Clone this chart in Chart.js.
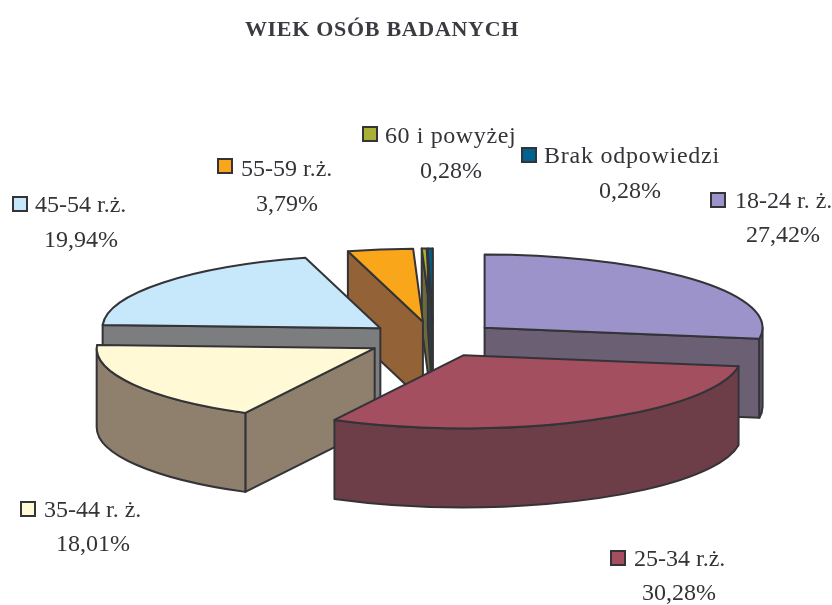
<!DOCTYPE html>
<html><head><meta charset="utf-8">
<style>html,body{margin:0;padding:0;background:#fff}#w{width:832px;height:605px}</style>
<script src="https://cdn.jsdelivr.net/npm/chart.js@4"></script>
</head><body><div id="w"><canvas id="c"></canvas></div>
<script>
const categories = ['18-24 r. ż.','25-34 r.ż.','35-44 r. ż.','45-54 r.ż.','55-59 r.ż.','60 i powyżej','Brak odpowiedzi'];
const values = [27.42,30.28,18.01,19.94,3.79,0.28,0.28];
const topColors = ['#9b93c9','#a34f60','#fff9d6','#c7e8fa','#f9a61a','#a8b035','#00628f'];
const sideColors = ['#6b5f74','#6e3e48','#8f7f6d','#7c7d7f','#936236','#6b6a3c','#2f3b45'];
const titleText = 'WIEK OSÓB BADANYCH';

const view = {k:0.263, depth:79, explode:67.6, centerX:433.3, centerY:339.3, stroke:'#333338', radius:278};
const paintOrder = [5,6,4,3,0,2,1];
// marker left/top, label start and baseline, percent centre and baseline, letter spacing
const labelBoxes = [
 {mx:711,my:193,tx:735,ty:208,px:783,py:242,ls:0},
 {mx:611,my:551,tx:634,ty:566,px:679,py:600,ls:0},
 {mx:21,my:502,tx:44,ty:517,px:93,py:551,ls:0},
 {mx:13,my:197,tx:35,ty:212,px:81,py:247,ls:0},
 {mx:218,my:159,tx:241,ty:176,px:287,py:211,ls:0},
 {mx:363,my:127,tx:385,ty:143,px:451,py:178,ls:0.6},
 {mx:522,my:148,tx:544,ty:163,px:630,py:198,ls:0.75}
];

const pie3d = {
 id:'pie3d',
 beforeDraw(chart){ chart.ctx.letterSpacing='0.7px'; },
 beforeDatasetDraw(chart,args){
  const ctx=chart.ctx, arcs=chart.getDatasetMeta(args.index).data, v=view;
  paintOrder.forEach(i=>{
   const arc=arcs[i], a0=arc.startAngle, a1=arc.endAngle, r=arc.outerRadius, mid=(a0+a1)/2;
   const X=v.centerX+Math.cos(mid)*v.explode, Y=v.centerY+Math.sin(mid)*v.explode*v.k, ry=r*v.k;
   ctx.save();
   ctx.lineJoin='round'; ctx.lineWidth=2; ctx.strokeStyle=v.stroke; ctx.fillStyle=sideColors[i];
   const face=a=>{
    const ex=X+r*Math.cos(a), ey=Y+ry*Math.sin(a);
    ctx.beginPath(); ctx.moveTo(X,Y); ctx.lineTo(ex,ey); ctx.lineTo(ex,ey+v.depth); ctx.lineTo(X,Y+v.depth); ctx.closePath();
    ctx.fill(); ctx.stroke();
   };
   if(Math.cos(a0)<0) face(a0);
   if(Math.cos(a1)>0) face(a1);
   const w0=Math.max(a0,0), w1=Math.min(a1,Math.PI);
   if(w1>w0){
    ctx.beginPath();
    ctx.ellipse(X,Y,r,ry,0,w0,w1,false);
    ctx.ellipse(X,Y+v.depth,r,ry,0,w1,w0,true);
    ctx.closePath(); ctx.fill(); ctx.stroke();
   }
   ctx.save();
   ctx.translate(X,Y); ctx.scale(1,v.k); ctx.translate(-arc.x,-arc.y);
   arc.draw(ctx);
   ctx.restore();
   ctx.beginPath(); ctx.moveTo(X,Y); ctx.ellipse(X,Y,r,ry,0,a0,a1,false); ctx.closePath(); ctx.stroke();
   ctx.restore();
  });
  return false;
 },
 afterDraw(chart){
  const ctx=chart.ctx;
  ctx.save();
  ctx.font='24px "Liberation Serif"'; ctx.textBaseline='alphabetic';
  categories.forEach((name,i)=>{
   const b=labelBoxes[i];
   ctx.fillStyle=topColors[i]; ctx.strokeStyle=view.stroke; ctx.lineWidth=2;
   ctx.fillRect(b.mx,b.my,14,14); ctx.strokeRect(b.mx,b.my,14,14);
   ctx.fillStyle='#333338'; ctx.textAlign='left';
   ctx.letterSpacing=b.ls+'px';
   ctx.fillText(name,b.tx,b.ty);
   ctx.letterSpacing='0px';
   ctx.textAlign='center';
   ctx.fillText(values[i].toFixed(2).replace('.',',')+'%',b.px,b.py);
  });
  ctx.restore();
  ctx.letterSpacing='0px';
 }
};

new Chart(document.getElementById('c'),{
 type:'pie',
 data:{labels:categories,datasets:[{data:values,backgroundColor:topColors,borderWidth:0}]},
 plugins:[pie3d],
 options:{
  responsive:true,maintainAspectRatio:false,animation:false,radius:view.radius,
  layout:{padding:{right:68}},
  plugins:{
   legend:{display:false},tooltip:{enabled:false},
   title:{display:true,text:titleText,color:'#3a3a40',align:'center',
    font:{family:'"Liberation Serif"',size:22,weight:'bold'},padding:{top:17,bottom:0}}
  }
 }
});
</script></body></html>
